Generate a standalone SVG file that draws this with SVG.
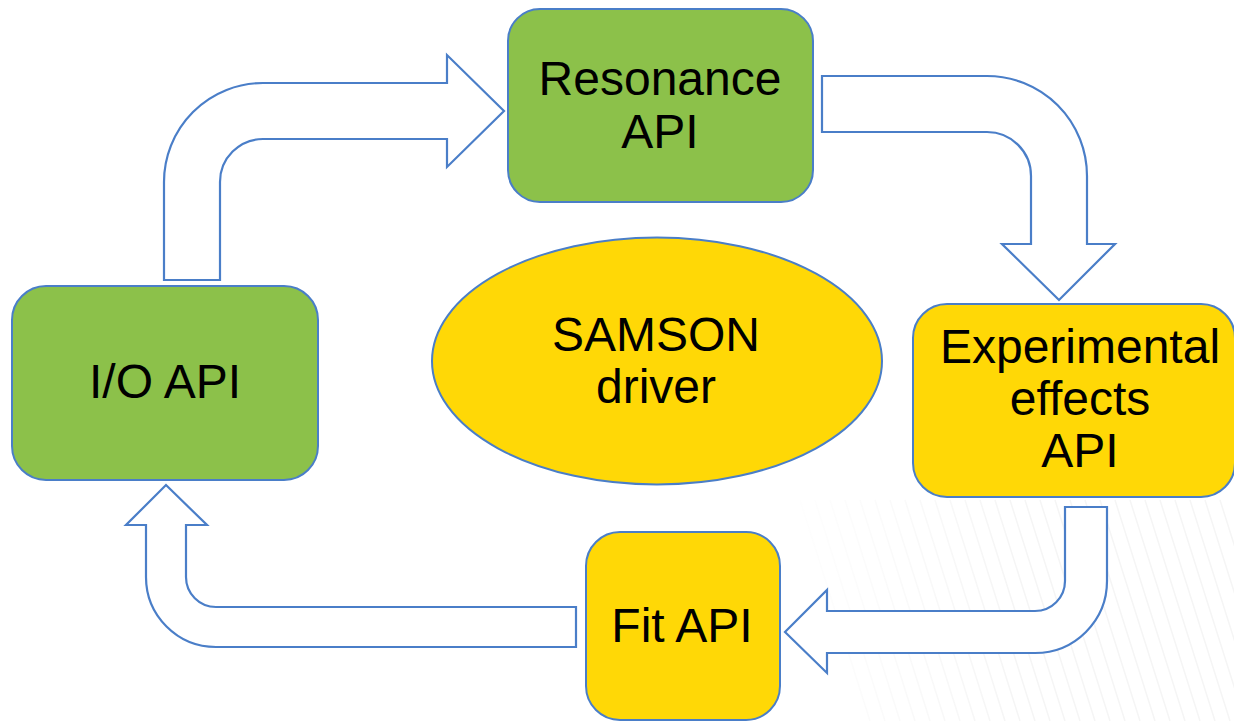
<svg xmlns="http://www.w3.org/2000/svg" width="1234" height="721" viewBox="0 0 1234 721">
<defs>
<style>
.green{fill:#8cc14a;stroke:#4a7ec8;stroke-width:2}
.yellow{fill:#ffd806;stroke:#4a7ec8;stroke-width:2}
.arrow{fill:#ffffff;stroke:#4a7ec8;stroke-width:2.2;stroke-linejoin:miter}
.lbl{font-family:"Liberation Sans",Arial,sans-serif;font-size:48px;fill:#000;text-anchor:middle}
.stripe{stroke:#f5f5f5;stroke-width:1.5}
</style>
<linearGradient id="fade" x1="0" y1="0" x2="1" y2="0">
<stop offset="0" stop-color="#fff" stop-opacity="1"/>
<stop offset="1" stop-color="#fff" stop-opacity="0"/>
</linearGradient>
</defs>
<rect width="1234" height="721" fill="#ffffff"/>
<g id="background">
<path class="stripe" d="M800,500 L870,721 M815,500 L885,721 M830,500 L900,721 M845,500 L915,721 M860,500 L930,721 M875,500 L945,721 M890,500 L960,721 M905,500 L975,721 M920,500 L990,721 M935,500 L1005,721 M950,500 L1020,721 M965,500 L1035,721 M980,500 L1050,721 M995,500 L1065,721 M1010,500 L1080,721 M1025,500 L1095,721 M1040,500 L1110,721 M1055,500 L1125,721 M1070,500 L1140,721 M1085,500 L1155,721 M1100,500 L1170,721 M1115,500 L1185,721 M1130,500 L1200,721 M1145,500 L1215,721 M1160,500 L1230,721 M1175,500 L1245,721 M1190,500 L1260,721 M1205,500 L1275,721 M1220,500 L1290,721"/>
<rect x="780" y="495" width="240" height="226" fill="url(#fade)"/>
</g>
<g id="connectors">
<path id="arrow-io-resonance" class="arrow" d="M164,280 L164,182 A99,99 0 0 1 263,83 L447,83 L447,55 L504,111 L447,167 L447,139 L263,139 A43,43 0 0 0 220,182 L220,280 Z"/>
<path id="arrow-resonance-exp" class="arrow" d="M822,76 L987,76 A100,100 0 0 1 1087,176 L1087,244 L1115,244 L1059,300 L1002,244 L1031,244 L1031,176 A44,44 0 0 0 987,132 L822,132 Z"/>
<path id="arrow-exp-fit" class="arrow" d="M1065,507 L1107,507 L1107,581 A72,72 0 0 1 1035,653 L827,653 L827,673 L785,632 L827,590 L827,611 L1035,611 A30,30 0 0 0 1065,581 Z"/>
<path id="arrow-fit-io" class="arrow" d="M576,607 L576,647 L216,647 A70,70 0 0 1 146,577 L146,525 L126,525 L166,485 L207,525 L186,525 L186,577 A30,30 0 0 0 216,607 Z"/>
</g>
<g id="node-resonance">
<rect class="green" x="508" y="9" width="305" height="193" rx="32" ry="32"/>
<text class="lbl" x="660" y="95">Resonance</text>
<text class="lbl" x="660" y="148">API</text>
</g>
<g id="node-io">
<rect class="green" x="12" y="286" width="306" height="194" rx="34" ry="34"/>
<text class="lbl" x="165" y="398">I/O API</text>
</g>
<g id="node-samson">
<ellipse class="yellow" cx="657" cy="361" rx="225" ry="123.5"/>
<text class="lbl" x="656" y="351">SAMSON</text>
<text class="lbl" x="656" y="403">driver</text>
</g>
<g id="node-experimental">
<rect class="yellow" x="913" y="304" width="322" height="193" rx="34" ry="34"/>
<text class="lbl" x="1080" y="363">Experimental</text>
<text class="lbl" x="1080" y="415">effects</text>
<text class="lbl" x="1080" y="467">API</text>
</g>
<g id="node-fit">
<rect class="yellow" x="586" y="532" width="194" height="188" rx="34" ry="34"/>
<text class="lbl" x="682" y="642">Fit API</text>
</g>
</svg>
